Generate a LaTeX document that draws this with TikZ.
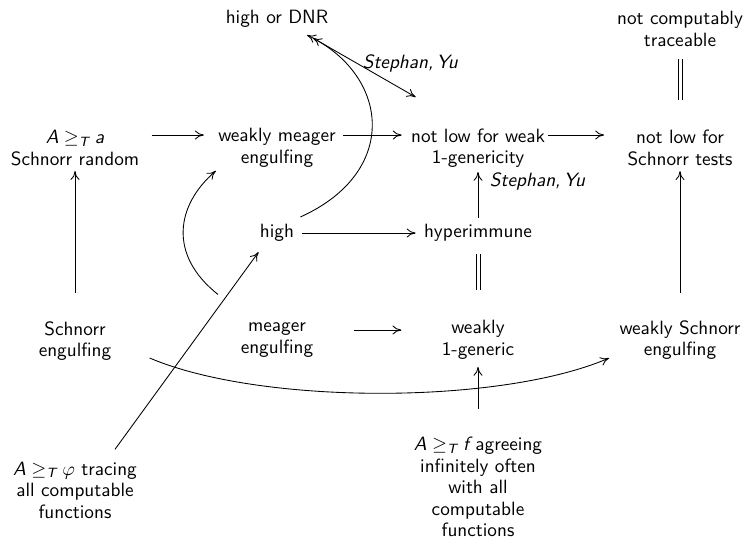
\documentclass[tikz,border=0pt]{standalone}
\usepackage{amsmath}
\usepackage{fontspec}
\usetikzlibrary{calc,arrows.meta}
\newcommand{\itx}[1]{\text{\itshape #1}}
\begin{document}
\begin{tikzpicture}[x=0.52pt,y=-0.52pt,
  every node/.style={font=\sffamily\fontsize{10}{11.2}\selectfont, align=center, inner sep=0pt},
  tip/.style={>={Computer Modern Rightarrow[length=4.6pt,width=4.6pt]}},
  imp/.style={tip, ->, line width=0.45pt},
  both/.style={tip, <->, line width=0.45pt},
  eqv/.style={line width=0.45pt},
  lbl/.style={font=\sffamily\itshape}]
\useasboundingbox (0,0) rectangle (748,539);

% entries
\node (hod) at (277,19)  {high or DNR};
\node (nct) at (680,29)  {not computably\\traceable};
\node (Aa)  at (75,148)  {$\itx{A} \geq_{\itx{T}} \itx{a}$\\Schnorr random};
\node (wme) at (277,148) {weakly meager\\engulfing};
\node (nlw) at (478,148) {not low for weak\\1-genericity};
\node (nls) at (680,148) {not low for\\Schnorr tests};
\node (high) at (277,233) {high};
\node (hyp) at (478,233) {hyperimmune};
\node (se)  at (75,341)  {Schnorr\\engulfing};
\node (me)  at (277,340) {meager\\engulfing};
\node (w1g) at (478,340) {weakly\\1-generic};
\node (wse) at (680,340) {weakly Schnorr\\engulfing};
\node (phi) at (75,490)  {$\itx{A} \geq_{\itx{T}} \varphi$ tracing\\all computable\\functions};
\node (fag) at (478,487) {$\itx{A} \geq_{\itx{T}} \itx{f}$ agreeing\\infinitely often\\with all\\computable\\functions};

% heights of the horizontal arrows
\coordinate (r1) at (0,135);
\coordinate (r3) at (0,330);

% top row
\draw[imp] ($(Aa.east |- r1)+(12,0)$) -- ($(wme.west |- r1)+(-14,0)$);
\draw[imp] ($(wme.east |- r1)+(7,0)$) -- ($(nlw.west |- r1)+(-9,0)$);
\draw[imp] ($(nlw.east |- r1)+(3,0)$) -- ($(nls.west |- r1)+(-23,0)$);

% verticals
\draw[imp] ($(se.north)+(0,-28)$) -- ($(Aa.south)+(0,5)$);
\draw[imp] ($(wse.north)+(0,-27)$) -- ($(nls.south)+(0,5)$);
\draw[eqv] ($(nct.south)+(-2,12)$) -- ($(nls.north)+(-2,-30)$)
           ($(nct.south)+(2,12)$) -- ($(nls.north)+(2,-30)$);
\draw[imp] ($(hyp.north)+(0,-6)$) -- node[lbl, anchor=west, xshift=6pt, pos=0.8] {Stephan,\,Yu} ($(nlw.south)+(0,4)$);
\draw[eqv] ($(hyp.south)+(-2,12)$) -- ($(w1g.north)+(-2,-30)$)
           ($(hyp.south)+(2,12)$) -- ($(w1g.north)+(2,-30)$);
\draw[imp] ($(fag.north)+(0,-28)$) -- ($(w1g.south)+(0,7)$);

% middle rows
\draw[imp] ($(high.east)+(8,0)$) -- ($(hyp.west)+(-8,0)$);
\draw[imp] ($(me.east |- r3)+(40,0)$) -- ($(w1g.west |- r3)+(-40,0)$);

% long connectors
\draw[imp] ($(se.east)+(38,17)$) .. controls (260,405) and (500,405) .. ($(wse.south west)+(-10,-2)$);
\draw[imp] ($(phi.north)+(40,-12)$) -- ($(high.south west)+(-1,10)$);
\draw[imp] ($(me.north)+(-59,-28)$) .. controls (168,255) and (176,205) .. ($(wme.south west)+(-2,3)$);
\draw[imp] ($(high.north east)+(6,-7)$) .. controls (400,172) and (390,75) .. ($(hod.south)+(30,7)$);
\draw[both] ($(hod.south)+(36,10)$) -- node[lbl, anchor=south west, xshift=-1pt, yshift=-2.5pt, pos=0.5] {Stephan,\,Yu} ($(nlw.north west)+(5,-31)$);
\end{tikzpicture}
\end{document}
